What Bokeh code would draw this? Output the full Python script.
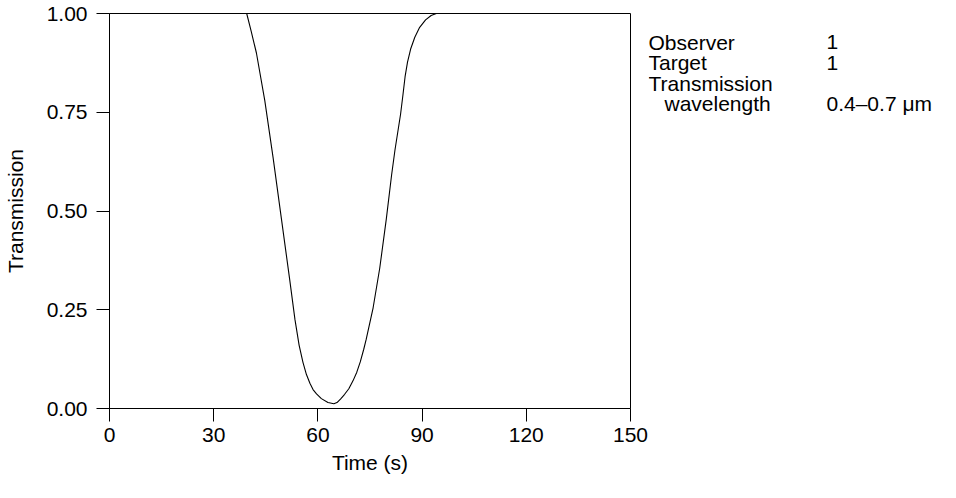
from bokeh.plotting import figure
from bokeh.layouts import row
from bokeh.models import FixedTicker, NumeralTickFormatter, Range1d
from bokeh.core.properties import value
from bokeh.embed import file_html
from bokeh.resources import INLINE

# Data
time_s = [39.5, 40.8, 42.3, 44.7, 47.1, 49.5, 51.9, 53.4, 54.6, 55.7, 56.7, 57.7,
          58.6, 59.6, 61.0, 62.9, 64.6, 65.5, 66.5, 67.7, 68.9, 70.1, 71.2, 72.2,
          73.2, 73.9, 75.9, 77.8, 79.7, 81.2, 82.2, 83.0, 83.8, 84.5, 85.1, 85.8,
          86.7, 87.9, 89.3, 91.0, 92.6, 94.1]
transmission = [1.0, 0.955, 0.90, 0.78, 0.635, 0.48, 0.325, 0.225, 0.16, 0.117, 0.086,
                0.064, 0.048, 0.037, 0.025, 0.015, 0.012, 0.015, 0.024, 0.036, 0.05,
                0.07, 0.092, 0.118, 0.15, 0.175, 0.255, 0.355, 0.48, 0.59, 0.655,
                0.70, 0.745, 0.795, 0.84, 0.877, 0.91, 0.94, 0.965, 0.984, 0.995, 1.0]
x_ticks = [0, 30, 60, 90, 120, 150]
y_ticks = [0.0, 0.25, 0.5, 0.75, 1.0]
info_labels = ["Observer", "Target", "Transmission", "wavelength"]
info_indent = [0, 0, 0, 16]
info_values = ["1", "1", "", "0.4\u20130.7 \u03bcm"]

FONT = "Liberation Sans"
FS = "21px"

H = 482
W1 = 648
left, top, right, bottom = 108, 13, 630, 408

p = figure(width=W1, height=H, output_backend="svg", toolbar_location=None,
           x_range=Range1d(0, 150), y_range=Range1d(0, 1))
p.min_border_left = left
p.min_border_top = top
p.min_border_right = W1 - right
p.min_border_bottom = H - bottom

p.grid.visible = False
p.outline_line_color = "black"
p.outline_line_width = 1
p.background_fill_color = "white"
p.border_fill_color = "white"

for ax in (p.xaxis[0], p.yaxis[0]):
    ax.axis_line_color = "black"
    ax.major_tick_line_color = "black"
    ax.minor_tick_line_color = None
    ax.major_tick_out = 13
    ax.major_tick_in = 0
    ax.major_label_text_font = FONT
    ax.major_label_text_font_size = FS
    ax.major_label_text_color = "black"
    ax.axis_label_text_font = FONT
    ax.axis_label_text_font_size = FS
    ax.axis_label_text_font_style = "normal"
    ax.axis_label_text_color = "black"

p.xaxis.ticker = FixedTicker(ticks=x_ticks)
p.yaxis.ticker = FixedTicker(ticks=y_ticks)
p.yaxis.formatter = NumeralTickFormatter(format="0.00")
p.xaxis.axis_label = "Time (s)"
p.yaxis.axis_label = "Transmission"
p.xaxis.major_label_standoff = 6
p.yaxis.major_label_standoff = 9
p.xaxis.axis_label_standoff = 6
p.yaxis.axis_label_standoff = 17

p.line(time_s, transmission, line_color="black", line_width=1.1)

# Side panel with the information text (1 data unit = 1 pixel)
W2 = 940 - W1
q = figure(width=W2, height=H, output_backend="svg", toolbar_location=None,
           x_axis_location=None, y_axis_location=None,
           x_range=Range1d(0, W2), y_range=Range1d(H, 0))
q.min_border = 0
q.grid.visible = False
q.outline_line_color = None
q.background_fill_color = "white"
q.border_fill_color = "white"

col1_x = 0
col2_x = 178
row_y0, row_dy = 35, 25
lab_x = [col1_x + d for d in info_indent]
lab_y = [row_y0 + i * row_dy for i in range(len(info_labels))]
q.text(x=lab_x, y=lab_y, text=info_labels, text_font=value(FONT),
       text_font_size=FS, text_baseline="alphabetic", text_color="black")
vals = [(v, y) for v, y in zip(info_values, lab_y) if v]
q.text(x=[col2_x] * len(vals), y=[y for _, y in vals], text=[v for v, _ in vals],
       text_font=value(FONT), text_font_size=FS, text_baseline="alphabetic",
       text_color="black")

layout = row(p, q)
open("out.html", "w").write(file_html(layout, INLINE))
